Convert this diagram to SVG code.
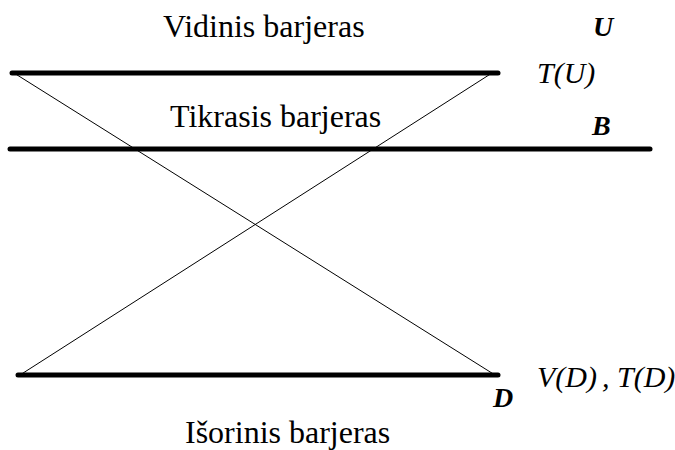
<svg xmlns="http://www.w3.org/2000/svg" width="675" height="450" viewBox="0 0 675 450">
<style>
.bar{stroke:#000;stroke-width:5;stroke-linecap:round;fill:none}
.thin{stroke:#000;stroke-width:1;fill:none}
.lbl{font-family:"Liberation Serif","Times New Roman",serif;font-size:32px;fill:#000}
.it{font-family:"Liberation Serif","Times New Roman",serif;font-size:30px;font-style:italic;fill:#000}
.bi{font-family:"Liberation Serif","Times New Roman",serif;font-size:28px;font-style:italic;font-weight:bold;fill:#000}
</style>
<rect width="675" height="450" fill="#fff"/>
<g id="connectors">
<line class="thin" x1="14" y1="73" x2="495" y2="375"/>
<line class="thin" x1="492" y1="73" x2="20" y2="375"/>
</g>
<g id="U">
<line class="bar" x1="12" y1="73" x2="498" y2="73"/>
<text class="lbl" x="163" y="37">Vidinis barjeras</text>
<text class="bi" x="593" y="36">U</text>
<text class="it" x="537" y="83">T(U)</text>
</g>
<g id="B">
<line class="bar" x1="10" y1="149" x2="650" y2="149"/>
<text class="lbl" x="170" y="127">Tikrasis barjeras</text>
<text class="bi" x="592" y="135">B</text>
</g>
<g id="D">
<line class="bar" x1="18" y1="375" x2="498" y2="375"/>
<text class="bi" x="493" y="407">D</text>
<text class="it" x="537" y="387">V(D)<tspan dx="5">,</tspan> T(D)</text>
<text class="lbl" x="185" y="443">Išorinis barjeras</text>
</g>
</svg>
